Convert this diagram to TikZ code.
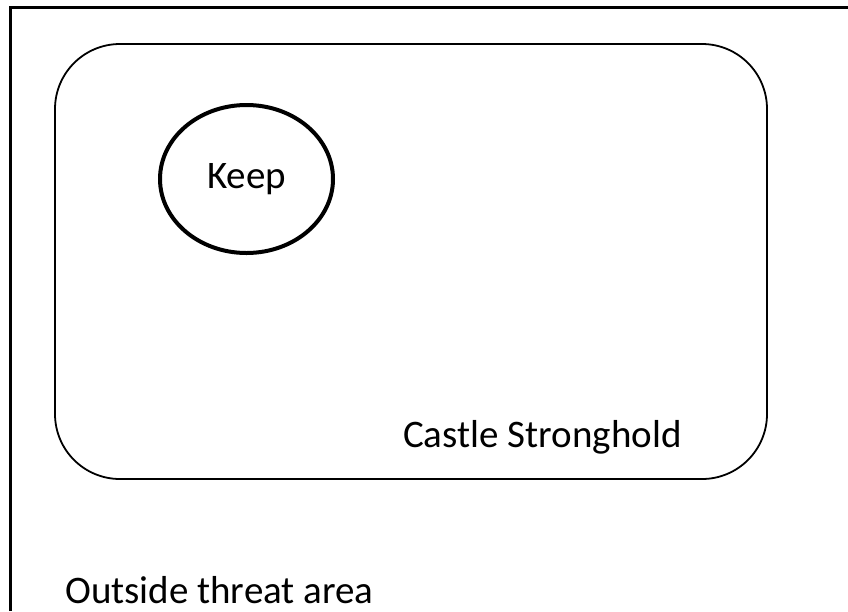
\documentclass[tikz,border=0pt]{standalone}
\usepackage{fontspec}
\setmainfont{Carlito}
\usetikzlibrary{shapes.geometric}

\begin{document}
\begin{tikzpicture}[x=1pt, y=-1pt, line cap=butt,
    label/.style={font=\fontsize{39}{46}\selectfont, inner sep=0pt},
    keepring/.style={ellipse, draw, line width=4pt, inner sep=0pt,
      minimum width=173pt, minimum height=148pt}]
  \useasboundingbox (0,0) rectangle (848,611);
  % outside frame
  \draw[line width=2.6pt] (10.5,611) -- (10.5,7.5) -- (848,7.5);
  % stronghold
  \draw[line width=1.8pt, rounded corners=65pt] (55,44) rectangle (767,479);
  % keep
  \node[keepring, label] (keep) at (246.5,179) {Keep};
  % labels
  \node[label, anchor=base west] (castle) at (403,447) {Castle Stronghold};
  \node[label, anchor=base west] (outside) at (65,603) {Outside threat area};
\end{tikzpicture}
\end{document}
